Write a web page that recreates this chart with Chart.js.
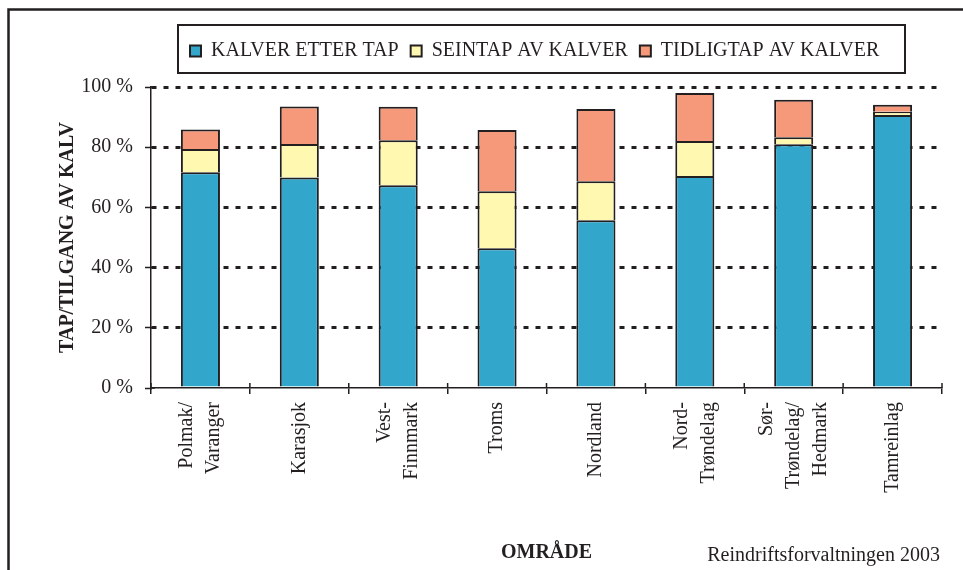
<!DOCTYPE html>
<html>
<head>
<meta charset="utf-8">
<script src="https://cdn.jsdelivr.net/npm/chart.js@4"></script>
<style>
  html, body { margin: 0; padding: 0; background: #fff; }
  canvas { display: block; }
</style>
</head>
<body>
<canvas id="Chart" width="963" height="570"></canvas>
<script>
const areas = [["Polmak/", "Varanger"], "Karasjok", ["Vest-", "Finnmark"], "Troms", "Nordland",
  ["Nord-", "Trøndelag"], ["Sør-", "Trøndelag/", "Hedmark"], "Tamreinlag"];
const kalverEtterTap = [71.7, 69.9, 67.4, 46.4, 55.7, 70.4, 81.0, 90.7];
const seintap = [7.7, 11.2, 14.9, 19.0, 13.0, 11.7, 2.3, 1.1];
const tidligtap = [6.5, 12.4, 11.1, 20.3, 24.0, 15.9, 12.5, 2.3];
const yTicks = [0, 20, 40, 60, 80, 100];

const ink = "#231f20";
const serif = "'Liberation Serif', 'Times New Roman', serif";

// frame, legend box, tick crosses and source text
const extras = {
  id: "extras",
  beforeDraw(chart) {
    const lg = chart.legend;
    const dx = 178 - lg.left;
    lg.left += dx; lg.right += dx;
    const dy = 29 - lg.top;
    lg.top += dy; lg.bottom += dy;

    // center multi-line rotated x labels on their category
    const xs = chart.scales.x;
    xs.getLabelItems(chart.chartArea).forEach(item => {
      const n = Array.isArray(item.label) ? item.label.length : 1;
      if (!item._moved) {
        item.options.translation[0] -= (n - 1) * item.font.lineHeight / 2;
        item._moved = true;
      }
    });
  },
  afterDraw(chart) {
    const ctx = chart.ctx;
    const xs = chart.scales.x, ys = chart.scales.y;
    const area = chart.chartArea;
    ctx.save();
    ctx.strokeStyle = ink;
    ctx.lineWidth = 2.5;
    ctx.beginPath();
    ctx.moveTo(8.5, 570);
    ctx.lineTo(8.5, 9.5);
    ctx.lineTo(963, 9.5);
    ctx.stroke();
    ctx.lineWidth = 2;
    ctx.strokeRect(178, 25, 727, 48);

    ctx.lineWidth = 1.5;
    ctx.beginPath();
    for (let i = 0; i <= areas.length; i++) {
      const px = xs.getPixelForValue(i - 0.5);
      ctx.moveTo(px, area.bottom);
      ctx.lineTo(px, area.bottom - 5);
    }
    yTicks.forEach(v => {
      const py = ys.getPixelForValue(v);
      ctx.moveTo(area.left, py);
      ctx.lineTo(area.left + 4, py);
    });
    ctx.stroke();

    ctx.fillStyle = ink;
    ctx.font = "20px " + serif;
    ctx.textAlign = "right";
    ctx.textBaseline = "alphabetic";
    ctx.fillText("Reindriftsforvaltningen 2003", 940, 561);
    ctx.restore();
  }
};

new Chart("Chart", {
  type: "bar",
  data: {
    labels: areas,
    datasets: [{
      label: "KALVER ETTER TAP",
      data: kalverEtterTap,
      backgroundColor: "#33a6cc",
      borderColor: ink,
      borderWidth: 2
    }, {
      label: "SEINTAP AV KALVER",
      data: seintap,
      backgroundColor: "#fff8b0",
      borderColor: ink,
      borderWidth: 2
    }, {
      label: "TIDLIGTAP AV KALVER",
      data: tidligtap,
      backgroundColor: "#f6987a",
      borderColor: ink,
      borderWidth: 2
    }]
  },
  options: {
    responsive: false,
    animation: false,
    devicePixelRatio: 1,
    layout: { padding: { left: 0, right: 21, top: 45, bottom: 0 } },
    datasets: { bar: { barPercentage: 0.395, categoryPercentage: 1 } },
    plugins: {
      tooltip: { enabled: false },
      legend: {
        align: "start",
        labels: {
          color: ink,
          font: { family: serif, size: 20 },
          boxWidth: 11,
          boxHeight: 11,
          padding: 12
        }
      }
    },
    scales: {
      x: {
        stacked: true,
        afterFit(scale) { scale.height = 182; },
        border: { display: true, color: ink, width: 1.5 },
        grid: { display: true, drawOnChartArea: false, drawTicks: true, tickLength: 6, color: ink, lineWidth: 1.5, offset: true },
        ticks: {
          color: ink,
          font: { family: serif, size: 20, lineHeight: 1.35 },
          maxRotation: 90,
          minRotation: 90,
          padding: 8,
          autoSkip: false
        },
        title: {
          display: true,
          text: "OMRÅDE",
          color: ink,
          font: { family: serif, size: 20, weight: "bold" },
          padding: { top: 0, bottom: 5 }
        }
      },
      y: {
        stacked: true,
        min: 0,
        max: 100,
        afterFit(scale) { scale.width = 151; },
        afterBuildTicks(scale) { scale.ticks = yTicks.map(v => ({ value: v })); },
        border: { display: true, color: ink, width: 1.5, dash: [5, 7] },
        grid: {
          color: c => (c.tick && c.tick.value === 0 ? "rgba(0,0,0,0)" : ink),
          lineWidth: 3,
          drawTicks: true,
          tickLength: 6,
          tickColor: ink,
          tickWidth: 1.5,
          tickBorderDash: []
        },
        ticks: {
          color: ink,
          font: { family: serif, size: 20 },
          padding: 12,
          callback: v => v + " %"
        },
        title: {
          display: true,
          text: "TAP/TILGANG AV KALV",
          color: ink,
          font: { family: serif, size: 20, weight: "bold" },
          padding: { top: 56, bottom: 0 }
        }
      }
    }
  },
  plugins: [extras]
});
</script>
</body>
</html>
